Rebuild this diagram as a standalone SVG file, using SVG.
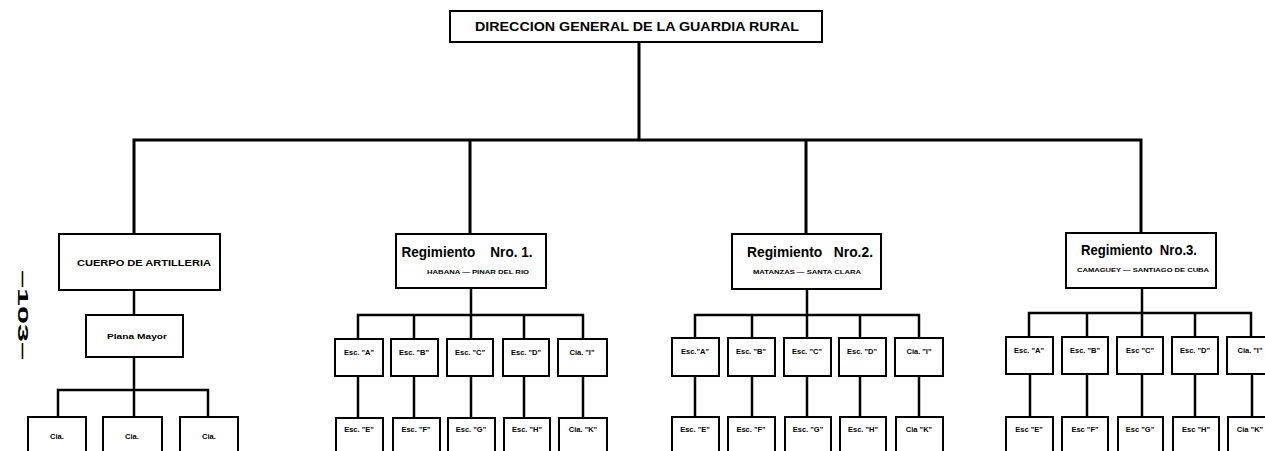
<svg xmlns="http://www.w3.org/2000/svg" width="1265" height="451" viewBox="0 0 1265 451">
<style>
.bg{fill:#ffffff}
.box{fill:#ffffff;stroke:#000;stroke-width:2}
.ln{fill:none;stroke:#000;stroke-width:3;stroke-linecap:square}
.ln2{fill:none;stroke:#000;stroke-width:2.5;stroke-linecap:square}
text{font-family:"Liberation Sans","DejaVu Sans",sans-serif;font-weight:bold;fill:#000;text-anchor:middle;white-space:pre}
.t1{font-size:12px}
.t2{font-size:9px}
.t3{font-size:8px}
.rg{font-size:14px}
.sub{font-size:5.5px}
.co{font-size:7.5px}
.pg{font-size:14px}
</style>
<rect class="bg" x="0" y="0" width="1265" height="451"/>
<g id="connectors">
  <path class="ln" d="M639 42 V140 M134 140 H1141 M134 140 V234 M470 140 V234 M806 140 V234 M1141 140 V233"/>
  <path class="ln2" d="M134 290 V315 M134 357 V390 M58 390 H208 M58 390 V417 M134 390 V417 M208 390 V417"/>
  <path class="ln2" d="M471 288 V315 M358 315 H583 M358 315 V339 M414 315 V339 M471 315 V339 M524 315 V339 M583 315 V339 M358 376 V418 M414 376 V418 M471 376 V418 M524 376 V418 M583 376 V418"/>
  <path class="ln2" d="M807 289 V315 M695 315 H919 M695 315 V338 M752 315 V338 M807 315 V338 M860 315 V338 M919 315 V338 M695 376 V417 M752 376 V417 M807 376 V417 M860 376 V417 M919 376 V417"/>
  <path class="ln2" d="M1142 288 V313 M1029 313 H1251 M1029 313 V337 M1087 313 V337 M1142 313 V337 M1195 313 V337 M1251 313 V337 M1030 374 V417 M1087 374 V417 M1142 374 V417 M1195 374 V417 M1252 374 V417"/>
</g>
<g id="n-direccion"><rect class="box" x="450" y="11" width="372" height="31"/><text class="t1" x="637" y="31" textLength="324" lengthAdjust="spacingAndGlyphs">DIRECCION GENERAL DE LA GUARDIA RURAL</text></g>
<g id="n-artilleria"><rect class="box" x="59" y="234" width="161" height="56"/><text class="t2" x="144" y="266" textLength="134" lengthAdjust="spacingAndGlyphs">CUERPO DE ARTILLERIA</text></g>
<g id="n-plana"><rect class="box" x="86" y="315" width="97" height="42"/><text class="t3" x="137" y="339" textLength="60" lengthAdjust="spacingAndGlyphs">Plana Mayor</text></g>
<g id="n-cia1"><rect class="box" x="28" y="417" width="58" height="40"/><text class="co" x="57" y="439">Cia.</text></g>
<g id="n-cia2"><rect class="box" x="103" y="417" width="59" height="40"/><text class="co" x="132" y="439">Cia.</text></g>
<g id="n-cia3"><rect class="box" x="180" y="417" width="58" height="40"/><text class="co" x="209" y="439">Cia.</text></g>
<g id="n-reg1"><rect class="box" x="396" y="234" width="150" height="54"/><text class="rg" x="467" y="257" textLength="131" lengthAdjust="spacingAndGlyphs" xml:space="preserve">Regimiento    Nro. 1.</text><text class="sub" x="478" y="274" textLength="102" lengthAdjust="spacingAndGlyphs">HABANA — PINAR DEL RIO</text></g>
<g id="n-reg2"><rect class="box" x="732" y="234" width="149" height="55"/><text class="rg" x="810" y="257" textLength="126" lengthAdjust="spacingAndGlyphs" xml:space="preserve">Regimiento   Nro.2.</text><text class="sub" x="807" y="274" textLength="108" lengthAdjust="spacingAndGlyphs">MATANZAS — SANTA CLARA</text></g>
<g id="n-reg3"><rect class="box" x="1066" y="233" width="150" height="55"/><text class="rg" x="1139" y="255" textLength="116" lengthAdjust="spacingAndGlyphs" xml:space="preserve">Regimiento  Nro.3.</text><text class="sub" x="1143" y="272" textLength="132" lengthAdjust="spacingAndGlyphs">CAMAGUEY — SANTIAGO DE CUBA</text></g>
<g id="n-r1-a"><rect class="box" x="335" y="339" width="48" height="37"/><text class="co" x="359" y="355">Esc. "A"</text></g>
<g id="n-r1-b"><rect class="box" x="391" y="339" width="47" height="37"/><text class="co" x="414" y="355">Esc. "B"</text></g>
<g id="n-r1-c"><rect class="box" x="447" y="339" width="46" height="37"/><text class="co" x="470" y="355">Esc. "C"</text></g>
<g id="n-r1-d"><rect class="box" x="503" y="339" width="46" height="37"/><text class="co" x="526" y="355">Esc. "D"</text></g>
<g id="n-r1-i"><rect class="box" x="558" y="339" width="49" height="37"/><text class="co" x="582" y="355">Cia. "I"</text></g>
<g id="n-r1-e"><rect class="box" x="336" y="418" width="47" height="40"/><text class="co" x="359" y="432">Esc. "E"</text></g>
<g id="n-r1-f"><rect class="box" x="393" y="418" width="47" height="40"/><text class="co" x="416" y="432">Esc. "F"</text></g>
<g id="n-r1-g"><rect class="box" x="448" y="418" width="47" height="40"/><text class="co" x="471" y="432">Esc. "G"</text></g>
<g id="n-r1-h"><rect class="box" x="504" y="418" width="46" height="40"/><text class="co" x="527" y="432">Esc. "H"</text></g>
<g id="n-r1-k"><rect class="box" x="559" y="418" width="48" height="40"/><text class="co" x="583" y="432">Cia. "K"</text></g>
<g id="n-r2-a"><rect class="box" x="672" y="338" width="47" height="38"/><text class="co" x="695" y="354">Esc."A"</text></g>
<g id="n-r2-b"><rect class="box" x="728" y="338" width="47" height="38"/><text class="co" x="751" y="354">Esc. "B"</text></g>
<g id="n-r2-c"><rect class="box" x="784" y="338" width="47" height="38"/><text class="co" x="807" y="354">Esc. "C"</text></g>
<g id="n-r2-d"><rect class="box" x="839" y="338" width="47" height="38"/><text class="co" x="862" y="354">Esc. "D"</text></g>
<g id="n-r2-i"><rect class="box" x="895" y="338" width="48" height="38"/><text class="co" x="919" y="354">Cia. "I"</text></g>
<g id="n-r2-e"><rect class="box" x="672" y="417" width="47" height="40"/><text class="co" x="695" y="432">Esc. "E"</text></g>
<g id="n-r2-f"><rect class="box" x="728" y="417" width="47" height="40"/><text class="co" x="751" y="432">Esc. "F"</text></g>
<g id="n-r2-g"><rect class="box" x="785" y="417" width="46" height="40"/><text class="co" x="808" y="432">Esc. "G"</text></g>
<g id="n-r2-h"><rect class="box" x="840" y="417" width="46" height="40"/><text class="co" x="863" y="432">Esc. "H"</text></g>
<g id="n-r2-k"><rect class="box" x="896" y="417" width="47" height="40"/><text class="co" x="919" y="432">Cia "K"</text></g>
<g id="n-r3-a"><rect class="box" x="1006" y="337" width="47" height="37"/><text class="co" x="1029" y="353">Esc. "A"</text></g>
<g id="n-r3-b"><rect class="box" x="1062" y="337" width="46" height="37"/><text class="co" x="1085" y="353">Esc. "B"</text></g>
<g id="n-r3-c"><rect class="box" x="1117" y="337" width="46" height="37"/><text class="co" x="1140" y="353">Esc "C"</text></g>
<g id="n-r3-d"><rect class="box" x="1172" y="337" width="46" height="37"/><text class="co" x="1195" y="353">Esc. "D"</text></g>
<g id="n-r3-i"><rect class="box" x="1227" y="337" width="46" height="37"/><text class="co" x="1250" y="353">Cia. "I"</text></g>
<g id="n-r3-e"><rect class="box" x="1006" y="417" width="47" height="40"/><text class="co" x="1029" y="432">Esc "E"</text></g>
<g id="n-r3-f"><rect class="box" x="1062" y="417" width="46" height="40"/><text class="co" x="1085" y="432">Esc "F"</text></g>
<g id="n-r3-g"><rect class="box" x="1118" y="417" width="45" height="40"/><text class="co" x="1140" y="432">Esc "G"</text></g>
<g id="n-r3-h"><rect class="box" x="1173" y="417" width="46" height="40"/><text class="co" x="1196" y="432">Esc "H"</text></g>
<g id="n-r3-k"><rect class="box" x="1228" y="417" width="44" height="40"/><text class="co" x="1250" y="432">Cia "K"</text></g>
<text class="pg" x="0" y="0" transform="translate(18,315) rotate(90)" textLength="90" lengthAdjust="spacingAndGlyphs">–103–</text>
</svg>
